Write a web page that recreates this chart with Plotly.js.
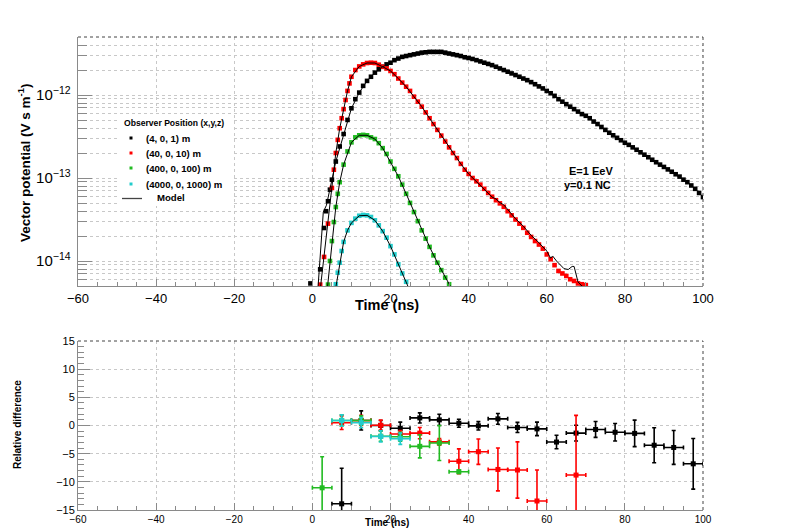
<!DOCTYPE html>
<html>
<head>
<meta charset="utf-8">
<script src="https://cdn.plot.ly/plotly-3.0.1.min.js"></script>
<style>html,body{margin:0;padding:0;background:#fff;}#plot{width:788px;height:532px;}</style>
</head>
<body>
<div id="plot"></div>
<script>
// ---------- Top panel: vector potential (V s m^-1) vs time (ns) ----------
var blackTime = [-0.5,2,3,3.5,4,4.5,5,6,7,8,9,10,11,12,13,14,15,16,17,18,19,20,21,22,23,24,25,26,27,28,29,30,31,32,33,34,35,36,37,38,39,40,41,42,43,44,45,46,47,48,49,50,51,52,53,54,55,56,57,58,59,60,61,62,63,64,65,66,67,68,69,70,71,72,73,74,75,76,77,78,79,80,81,82,83,84,85,86,87,88,89,90,91,92,93,94,95,96,97,98,99,100];
var blackVal = [5.37e-15,7.94e-15,2.5e-14,3.98e-14,5.25e-14,7.24e-14,9.55e-14,1.58e-13,2.40e-13,3.39e-13,5.01e-13,6.92e-13,8.91e-13,1.07e-12,1.29e-12,1.48e-12,1.66e-12,1.86e-12,2.04e-12,2.19e-12,2.34e-12,2.45e-12,2.63e-12,2.75e-12,2.88e-12,2.95e-12,3.02e-12,3.09e-12,3.16e-12,3.24e-12,3.27e-12,3.31e-12,3.31e-12,3.31e-12,3.31e-12,3.24e-12,3.16e-12,3.09e-12,3.02e-12,2.95e-12,2.85e-12,2.79e-12,2.72e-12,2.63e-12,2.54e-12,2.45e-12,2.37e-12,2.29e-12,2.19e-12,2.09e-12,2.00e-12,1.91e-12,1.82e-12,1.74e-12,1.66e-12,1.58e-12,1.51e-12,1.43e-12,1.35e-12,1.27e-12,1.20e-12,1.12e-12,1.05e-12,9.77e-13,8.91e-13,8.32e-13,7.76e-13,7.24e-13,6.76e-13,6.31e-13,5.89e-13,5.62e-13,5.25e-13,4.79e-13,4.47e-13,4.12e-13,3.80e-13,3.51e-13,3.27e-13,3.05e-13,2.85e-13,2.66e-13,2.51e-13,2.34e-13,2.19e-13,2.04e-13,1.91e-13,1.78e-13,1.66e-13,1.55e-13,1.45e-13,1.36e-13,1.27e-13,1.19e-13,1.11e-13,1.04e-13,9.55e-14,8.91e-14,8.13e-14,7.41e-14,6.61e-14,5.89e-14];

var redTime = [2,3,4,5,5.5,6,6.5,7,7.5,8,8.5,9,9.5,10,11,12,13,14,15,16,17,18,19,20,21,22,23,24,25,26,27,28,29,30,31,32,33,34,35,36,37,38,39,40,41,42,43,44,45,46,47,48,49,50,51,52,53,54,55,56,57,58,59,60,61,62,63,64,65,66,67,68,69,70];
var redVal = [5.2e-15,1.12e-14,2.82e-14,7.59e-14,1.26e-13,2.0e-13,2.88e-13,3.98e-13,5.25e-13,6.76e-13,8.71e-13,1.12e-12,1.38e-12,1.66e-12,2.0e-12,2.21e-12,2.34e-12,2.43e-12,2.45e-12,2.43e-12,2.32e-12,2.19e-12,2.09e-12,1.95e-12,1.78e-12,1.58e-12,1.41e-12,1.26e-12,1.12e-12,9.55e-13,8.32e-13,7.24e-13,6.17e-13,5.25e-13,4.47e-13,3.80e-13,3.24e-13,2.75e-13,2.34e-13,2.00e-13,1.74e-13,1.48e-13,1.26e-13,1.12e-13,1.0e-13,9.12e-14,8.32e-14,7.41e-14,6.61e-14,5.95e-14,5.40e-14,4.95e-14,4.50e-14,3.98e-14,3.55e-14,3.16e-14,2.82e-14,2.51e-14,2.19e-14,1.95e-14,1.74e-14,1.58e-14,1.41e-14,1.20e-14,1.05e-14,8.91e-15,7.59e-15,7.08e-15,6.61e-15,6.03e-15,5.75e-15,5.37e-15,5.25e-15,5.13e-15];

var greenTime = [4,4.5,5,5.5,6,6.5,7,8,9,10,11,12,13,14,15,16,17,18,19,20,21,22,23,24,25,26,27,28,29,30,31,32,33,34,35];
var greenVal = [5.2e-15,1.0e-14,1.74e-14,2.95e-14,4.47e-14,6.46e-14,8.91e-14,1.45e-13,2.09e-13,2.69e-13,3.09e-13,3.27e-13,3.31e-13,3.27e-13,3.09e-13,2.95e-13,2.63e-13,2.29e-13,1.95e-13,1.58e-13,1.29e-13,1.05e-13,8.32e-14,6.46e-14,5.01e-14,3.89e-14,3.02e-14,2.34e-14,1.86e-14,1.48e-14,1.17e-14,9.55e-15,7.76e-15,6.31e-15,5.25e-15];

var cyanTime = [6,6.5,7,7.5,8,9,10,11,12,13,14,15,16,17,18,19,20,21,22,23,24];
var cyanVal = [5.25e-15,7.24e-15,9.55e-15,1.32e-14,1.70e-14,2.34e-14,2.88e-14,3.24e-14,3.51e-14,3.59e-14,3.55e-14,3.39e-14,3.09e-14,2.69e-14,2.29e-14,1.91e-14,1.51e-14,1.20e-14,9.12e-15,7.08e-15,5.62e-15];

// Model curves
var modelBlackTime = [1.4,2.8,3.6,4.5,5,6,8,10,12,14,16,18,20,22,24,26,28,30,32,34,36,38,40,42,44,46,48,50,52,54,56,58,60,62,64,66,68,70,72,74,76,78,80,82,84,86,88,90,92,94,96,98,100];
var modelBlackVal = [4.5e-15,3.9e-14,4.7e-14,7.1e-14,9.5e-14,1.58e-13,3.39e-13,6.92e-13,1.07e-12,1.48e-12,1.86e-12,2.19e-12,2.45e-12,2.75e-12,2.95e-12,3.09e-12,3.24e-12,3.31e-12,3.31e-12,3.24e-12,3.09e-12,2.95e-12,2.79e-12,2.63e-12,2.45e-12,2.29e-12,2.09e-12,1.91e-12,1.74e-12,1.58e-12,1.43e-12,1.27e-12,1.12e-12,9.77e-13,8.32e-13,7.24e-13,6.31e-13,5.62e-13,4.79e-13,4.12e-13,3.51e-13,3.05e-13,2.66e-13,2.34e-13,2.04e-13,1.78e-13,1.55e-13,1.36e-13,1.19e-13,1.04e-13,8.91e-14,7.41e-14,5.89e-14];

var modelRedTime = [2,3,4,5,6,7,8,9,10,12,14,16,18,20,22,24,26,28,30,32,34,36,38,40,42,44,46,47,48,49,50,52,54,56,58,59,60,61,61.5,62.5,64.4,65.5,66.5,67,68,69,69.6];
var modelRedVal = [4.5e-15,1.12e-14,2.82e-14,7.59e-14,2.0e-13,3.98e-13,6.76e-13,1.12e-12,1.66e-12,2.21e-12,2.43e-12,2.43e-12,2.19e-12,1.95e-12,1.58e-12,1.26e-12,9.55e-13,7.24e-13,5.25e-13,3.80e-13,2.75e-13,2.00e-13,1.48e-13,1.12e-13,9.12e-14,7.41e-14,5.89e-14,5.60e-14,5.05e-14,4.75e-14,4.17e-14,3.24e-14,2.63e-14,2.04e-14,1.66e-14,1.50e-14,1.32e-14,1.08e-14,1.15e-14,1.0e-14,8.1e-15,7.9e-15,8.6e-15,8.6e-15,5.6e-15,5.0e-15,4.8e-15];

var modelGreenTime = [3.8,5,6,7,8,10,12,14,16,18,20,22,24,26,28,30,32,34,35.5];
var modelGreenVal = [4.5e-15,1.74e-14,4.47e-14,8.91e-14,1.45e-13,2.69e-13,3.27e-13,3.27e-13,2.95e-13,2.29e-13,1.58e-13,1.05e-13,6.46e-14,3.89e-14,2.34e-14,1.48e-14,9.55e-15,6.31e-15,4.8e-15];

var modelCyanTime = [5.9,7,8,9,10,12,14,16,18,20,22,24,24.6];
var modelCyanVal = [4.5e-15,9.55e-15,1.70e-14,2.34e-14,2.88e-14,3.51e-14,3.55e-14,3.09e-14,2.29e-14,1.51e-14,9.12e-15,5.62e-15,4.8e-15];

// ---------- Bottom panel: relative difference ----------
var binHalfWidth = 2.5;
var diffBlackTime = [7.5,12.5,17.5,22.5,27.5,32.5,37.5,42.5,47.5,52.5,57.5,62.5,67.5,72.5,77.5,82.5,87.5,92.5,97.5];
var diffBlack = [-13.9,0.9,0.0,-0.5,1.35,1.0,0.4,-0.06,1.18,-0.35,-0.6,-2.94,-1.35,-0.7,-1.2,-1.4,-3.5,-3.9,-6.8];
var diffBlackErr = [6.3,1.7,0.9,1.1,0.9,1.0,0.7,0.75,0.95,0.9,1.2,1.2,1.4,1.4,1.55,2.35,3.1,3.0,4.5];

var diffRedTime = [7.5,12.5,17.5,22.5,27.5,32.5,37.5,42.5,47.5,52.5,57.5,67.5];
var diffRed = [0.5,0.9,0.05,-1.5,-1.35,-2.9,-6.35,-4.65,-7.8,-7.9,-13.4,-8.8];
var diffRedErr = [1.2,0.9,0.9,0.6,1.0,0.6,2.2,2.25,3.8,5.0,5.5,10.6];

var diffGreenTime = [2.5,7.5,12.5,17.5,22.5,27.5,32.5,37.5];
var diffGreen = [-11.06,0.9,0.9,-1.9,-2.0,-3.7,-3.1,-8.2];
var diffGreenErr = [5.5,1.0,0.8,0.9,0.8,2.05,3.1,0.3];

var diffCyanTime = [7.5,12.5,17.5,22.5];
var diffCyan = [0.88,0.5,-1.94,-2.35];
var diffCyanErr = [1.0,0.9,1.0,1.0];

var legendTitle = 'Observer Position (x,y,z)';
var seriesNames = ['(4, 0, 1) m','(40, 0, 10) m','(400, 0, 100) m','(4000, 0, 1000) m'];
var modelName = 'Model';
var seriesColors = ['#000000', '#ff0000', '#22bb22', '#22cccc'];

var FONT = 'Liberation Sans, Arial, Helvetica, sans-serif';

function dataTrace(x, y, name, color) {
  return {x: x, y: y, type: 'scatter', mode: 'markers', name: name, showlegend: false,
          marker: {symbol: 'square', size: 4.6, color: color, line: {width: 0}},
          xaxis: 'x', yaxis: 'y', hoverinfo: 'skip'};
}
function modelTrace(x, y) {
  return {x: x, y: y, type: 'scatter', mode: 'lines', name: modelName, showlegend: false,
          line: {color: '#000000', width: 1}, xaxis: 'x', yaxis: 'y', hoverinfo: 'skip'};
}
function diffTrace(x, y, err, color) {
  return {x: x, y: y, type: 'scatter', mode: 'markers', showlegend: false,
          marker: {symbol: 'square', size: 5, color: color},
          error_x: {type: 'constant', value: binHalfWidth, color: color, thickness: 1.6, width: 2},
          error_y: {type: 'data', array: err, color: color, thickness: 1.6, width: 2},
          xaxis: 'x2', yaxis: 'y2', hoverinfo: 'skip'};
}

var traces = [
  dataTrace(blackTime, blackVal, seriesNames[0], seriesColors[0]),
  dataTrace(redTime, redVal, seriesNames[1], seriesColors[1]),
  dataTrace(greenTime, greenVal, seriesNames[2], seriesColors[2]),
  dataTrace(cyanTime, cyanVal, seriesNames[3], seriesColors[3]),
  modelTrace(modelBlackTime, modelBlackVal),
  modelTrace(modelRedTime, modelRedVal),
  modelTrace(modelGreenTime, modelGreenVal),
  modelTrace(modelCyanTime, modelCyanVal),
  diffTrace(diffBlackTime, diffBlack, diffBlackErr, seriesColors[0]),
  diffTrace(diffRedTime, diffRed, diffRedErr, seriesColors[1]),
  diffTrace(diffGreenTime, diffGreen, diffGreenErr, seriesColors[2]),
  diffTrace(diffCyanTime, diffCyan, diffCyanErr, seriesColors[3])
];

var gridCol = '#c8c8c8';
var axisCol = '#8a8a8a';
var W = 788, H = 532;
var xDom = [78/W, 703/W];
function px(x) { return x / W; }
function py(y) { return 1 - y / H; }

var shapes = [
  {type: 'line', xref: 'x domain', yref: 'y domain', x0: 0, x1: 1, y0: 1, y1: 1, line: {color: '#444', width: 1, dash: 'dot'}},
  {type: 'line', xref: 'x domain', yref: 'y domain', x0: 1, x1: 1, y0: 0, y1: 1, line: {color: '#444', width: 1, dash: 'dot'}},
  {type: 'line', xref: 'x2 domain', yref: 'y2 domain', x0: 0, x1: 1, y0: 1, y1: 1, line: {color: '#444', width: 1, dash: 'dot'}},
  {type: 'line', xref: 'x2 domain', yref: 'y2 domain', x0: 1, x1: 1, y0: 0, y1: 1, line: {color: '#444', width: 1, dash: 'dot'}},
  {type: 'rect', xref: 'paper', yref: 'paper', x0: px(119), x1: px(233), y0: py(206), y1: py(114),
   fillcolor: '#ffffff', line: {width: 0}, layer: 'above'}
];
var annotations = [
  {text: '<b>Vector potential (V s m<sup>-1</sup>)</b>', xref: 'paper', yref: 'paper', x: px(24), y: py(163),
   textangle: -90, showarrow: false, font: {size: 13.5, family: FONT}, xanchor: 'center', yanchor: 'middle'},
  {text: '<b>Time (ns)</b>', xref: 'paper', yref: 'paper', x: px(387), y: py(305),
   showarrow: false, font: {size: 14.5, family: FONT}, xanchor: 'center', yanchor: 'middle'},
  {text: '<b>E=1 EeV</b>', xref: 'paper', yref: 'paper', x: px(591), y: py(171),
   showarrow: false, font: {size: 11, family: FONT}, xanchor: 'center', yanchor: 'middle'},
  {text: '<b>y=0.1 NC</b>', xref: 'paper', yref: 'paper', x: px(587), y: py(185),
   showarrow: false, font: {size: 11, family: FONT}, xanchor: 'center', yanchor: 'middle'},
  {text: '<b>Relative difference</b>', xref: 'paper', yref: 'paper', x: px(17), y: py(425),
   textangle: -90, showarrow: false, font: {size: 10, family: FONT}, xanchor: 'center', yanchor: 'middle'},
  {text: '<b>Time (ns)</b>', xref: 'paper', yref: 'paper', x: px(387), y: py(522),
   showarrow: false, font: {size: 10, family: FONT}, xanchor: 'center', yanchor: 'middle'},
  {text: '<b>' + legendTitle + '</b>', xref: 'paper', yref: 'paper', x: px(122), y: py(123),
   showarrow: false, font: {size: 8.6, family: FONT}, xanchor: 'left', yanchor: 'middle'}
];
var rowY = [138, 153, 168, 184];
for (var i = 0; i < seriesNames.length; i++) {
  shapes.push({type: 'rect', xref: 'paper', yref: 'paper', x0: px(129.5), x1: px(132.5), y0: py(rowY[i] + 1.5), y1: py(rowY[i] - 1.5),
               fillcolor: seriesColors[i], line: {width: 0}, layer: 'above'});
  annotations.push({text: '<b>' + seriesNames[i] + '</b>', xref: 'paper', yref: 'paper', x: px(144), y: py(rowY[i]),
                    showarrow: false, font: {size: 9.6, family: FONT}, xanchor: 'left', yanchor: 'middle'});
}
shapes.push({type: 'line', xref: 'paper', yref: 'paper', x0: px(122), x1: px(142), y0: py(198.5), y1: py(198.5),
             line: {color: '#444', width: 1.3}, layer: 'above'});
annotations.push({text: '<b>' + modelName + '</b>', xref: 'paper', yref: 'paper', x: px(155), y: py(198),
                  showarrow: false, font: {size: 9.6, family: FONT}, xanchor: 'left', yanchor: 'middle'});

var layout = {
  width: W, height: H,
  margin: {l: 0, r: 0, t: 0, b: 0},
  paper_bgcolor: '#ffffff', plot_bgcolor: '#ffffff',
  font: {family: FONT, color: '#000'},
  showlegend: false,
  xaxis: {domain: xDom, anchor: 'y', range: [-60, 100], tick0: -60, dtick: 20,
          ticks: 'inside', ticklen: 7, tickcolor: axisCol, showline: true, linecolor: axisCol,
          showgrid: true, gridcolor: gridCol, griddash: 'dot', zeroline: false,
          tickfont: {size: 13, family: FONT},
          minor: {dtick: 5, ticks: 'inside', ticklen: 4, tickcolor: axisCol, showgrid: false}},
  yaxis: {domain: [py(286), py(37)], anchor: 'x', type: 'log',
          range: [Math.log10(5e-15), Math.log10(5e-12)], dtick: 1, exponentformat: 'power',
          ticks: 'inside', ticklen: 14, tickcolor: axisCol, showline: true, linecolor: axisCol,
          showgrid: true, gridcolor: gridCol, griddash: 'dot', zeroline: false,
          tickfont: {size: 12, family: FONT}, ticklabelstandoff: 4,
          minor: {dtick: 'D1', ticks: 'inside', ticklen: 9, tickcolor: axisCol,
                  showgrid: true, gridcolor: gridCol, griddash: 'dot'}},
  xaxis2: {domain: xDom, anchor: 'y2', range: [-60, 100], tick0: -60, dtick: 20,
           ticks: 'inside', ticklen: 7, tickcolor: axisCol, showline: true, linecolor: axisCol,
           showgrid: true, gridcolor: gridCol, griddash: 'dot', zeroline: false,
           tickfont: {size: 10, family: FONT},
           minor: {dtick: 5, ticks: 'inside', ticklen: 4, tickcolor: axisCol, showgrid: false}},
  yaxis2: {domain: [py(510), py(341)], anchor: 'x2', range: [-15, 15], tick0: -15, dtick: 5,
           ticks: 'inside', ticklen: 12, tickcolor: axisCol, showline: true, linecolor: axisCol,
           showgrid: true, gridcolor: gridCol, griddash: 'dot', zeroline: false,
           tickfont: {size: 11, family: FONT},
           minor: {dtick: 1, ticks: 'inside', ticklen: 6, tickcolor: axisCol, showgrid: false}},
  shapes: shapes,
  annotations: annotations
};

Plotly.newPlot('plot', traces, layout, {staticPlot: true, displayModeBar: false});
</script>
</body>
</html>
